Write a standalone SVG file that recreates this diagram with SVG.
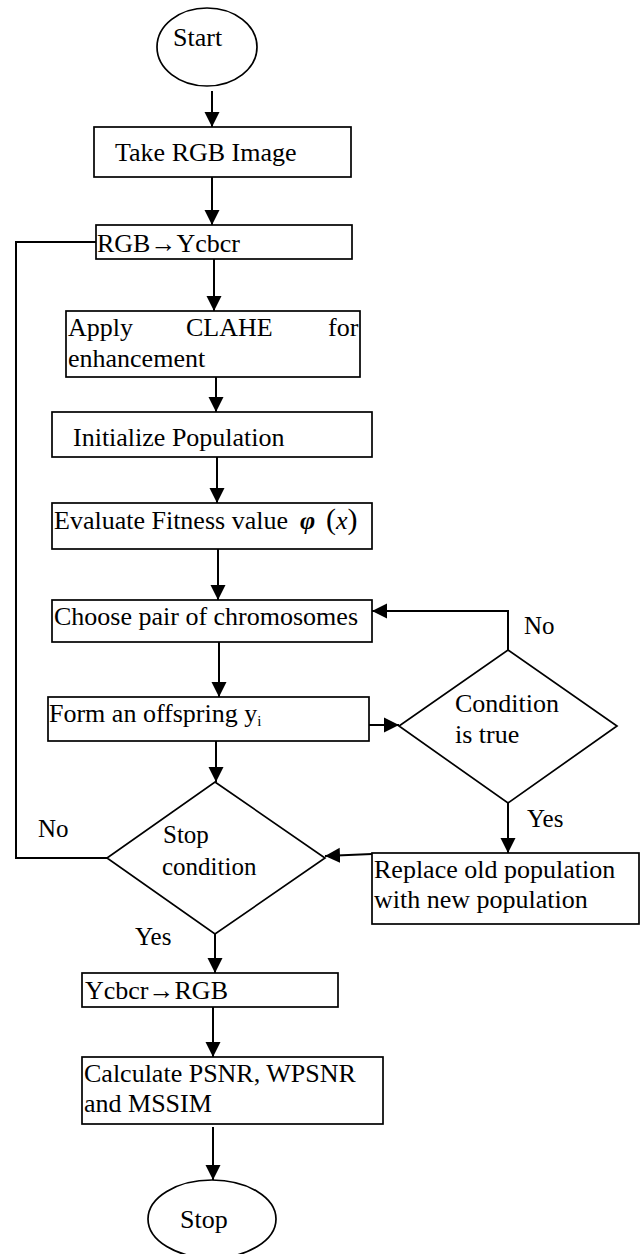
<svg xmlns="http://www.w3.org/2000/svg" width="641" height="1254" viewBox="0 0 641 1254">
<defs>
<marker id="ah" markerUnits="userSpaceOnUse" markerWidth="16" markerHeight="16" viewBox="0 0 16 16" refX="15" refY="8" orient="auto">
<path d="M0,0.5 L15,8 L0,15.5 Z" fill="#000"/>
</marker>
<style>
.box{fill:#fff;stroke:#000;stroke-width:1.7}
.t{font-family:"Liberation Serif","Times New Roman",serif;font-size:26px;fill:#000}
.d{font-size:25px}
.c{fill:none;stroke:#000;stroke-width:2}
</style>
</defs>
<rect width="641" height="1254" fill="#fff"/>
<g id="connectors">
<line class="c" x1="212" y1="91" x2="212" y2="127" marker-end="url(#ah)"/>
<line class="c" x1="212" y1="177" x2="212" y2="225" marker-end="url(#ah)"/>
<line class="c" x1="214" y1="259" x2="214" y2="311" marker-end="url(#ah)"/>
<line class="c" x1="216" y1="377" x2="216" y2="412" marker-end="url(#ah)"/>
<line class="c" x1="217" y1="457" x2="217" y2="503" marker-end="url(#ah)"/>
<line class="c" x1="218" y1="549" x2="218" y2="600" marker-end="url(#ah)"/>
<line class="c" x1="219" y1="642" x2="219" y2="697" marker-end="url(#ah)"/>
<line class="c" x1="369" y1="725" x2="399" y2="725" marker-end="url(#ah)"/>
<polyline class="c" points="508,650 508,611 372,611" marker-end="url(#ah)"/>
<line class="c" x1="508" y1="803" x2="508" y2="853" marker-end="url(#ah)"/>
<line class="c" x1="372" y1="854" x2="325" y2="856" marker-end="url(#ah)"/>
<line class="c" x1="216" y1="741" x2="216" y2="782" marker-end="url(#ah)"/>
<polyline class="c" points="96,242 16,242 16,858 107,858"/>
<line class="c" x1="215" y1="934" x2="215" y2="973" marker-end="url(#ah)"/>
<line class="c" x1="213" y1="1007" x2="213" y2="1057" marker-end="url(#ah)"/>
<line class="c" x1="213" y1="1127" x2="213" y2="1180" marker-end="url(#ah)"/>
<text class="t d" x="524" y="634">No</text>
<text class="t d" x="527" y="827">Yes</text>
<text class="t d" x="38" y="837">No</text>
<text class="t d" x="135" y="945">Yes</text>
</g>
<g id="start">
<ellipse class="box" cx="207" cy="47" rx="50" ry="39"/>
<text class="t" x="173" y="46">Start</text>
</g>
<g id="take-rgb">
<rect class="box" x="94" y="127" width="257" height="50"/>
<text class="t" x="115" y="161">Take RGB Image</text>
</g>
<g id="rgb-ycbcr">
<rect class="box" x="96" y="225" width="256" height="34"/>
<text class="t" x="97" y="252">RGB→Ycbcr</text>
</g>
<g id="clahe">
<rect class="box" x="66" y="311" width="294" height="66"/>
<text class="t" x="68" y="336">Apply</text>
<text class="t" x="186" y="336">CLAHE</text>
<text class="t" x="328" y="336">for</text>
<text class="t" x="68" y="367">enhancement</text>
</g>
<g id="init">
<rect class="box" x="52" y="412" width="320" height="45"/>
<text class="t" x="73" y="446">Initialize Population</text>
</g>
<g id="evaluate">
<rect class="box" x="52" y="503" width="320" height="46"/>
<text class="t" x="54" y="529">Evaluate Fitness value <tspan x="300" font-weight="bold" font-style="italic">φ</tspan><tspan x="326" font-size="30">(</tspan><tspan font-style="italic">x</tspan><tspan font-size="30">)</tspan></text>
</g>
<g id="choose">
<rect class="box" x="52" y="600" width="320" height="42"/>
<text class="t" x="54" y="625">Choose pair of chromosomes</text>
</g>
<g id="offspring">
<rect class="box" x="48" y="697" width="321" height="44"/>
<text class="t" x="49" y="722">Form an offspring y<tspan font-size="15" dy="4">i</tspan></text>
</g>
<g id="condition">
<polygon class="box" points="508,650 617,726 508,803 399,726"/>
<text class="t" font-size="24" x="455" y="712">Condition</text>
<text class="t" font-size="24" x="455" y="743">is true</text>
</g>
<g id="replace">
<rect class="box" x="372" y="853" width="267" height="71"/>
<text class="t" x="374" y="878">Replace old population</text>
<text class="t" x="374" y="908">with new population</text>
</g>
<g id="stop-condition">
<polygon class="box" points="215,782 325,858 215,934 107,858"/>
<text class="t d" x="163" y="843">Stop</text>
<text class="t d" x="162" y="875">condition</text>
</g>
<g id="ycbcr-rgb">
<rect class="box" x="82" y="973" width="256" height="34"/>
<text class="t" x="85" y="999">Ycbcr→RGB</text>
</g>
<g id="calculate">
<rect class="box" x="82" y="1057" width="301" height="67"/>
<text class="t" x="84" y="1082">Calculate PSNR, WPSNR</text>
<text class="t" x="84" y="1112">and MSSIM</text>
</g>
<g id="stop">
<ellipse class="box" cx="212" cy="1219" rx="64" ry="39"/>
<text class="t" x="180" y="1228">Stop</text>
</g>
</svg>
